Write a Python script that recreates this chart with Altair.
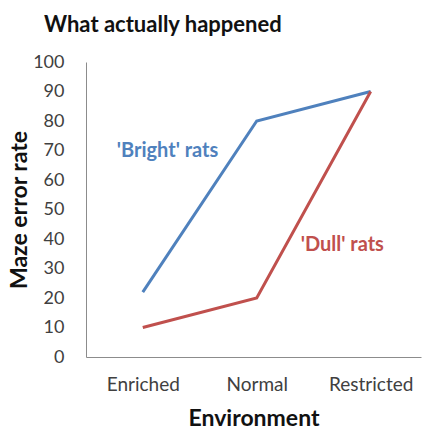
import altair as alt
import pandas as pd

environments = ["Enriched", "Normal", "Restricted"]
bright_rats = [22, 80, 90]
dull_rats = [10, 20, 90]
series_names = ["'Bright' rats", "'Dull' rats"]
series_colors = ["#4F81BD", "#C0504D"]
y_ticks = list(range(0, 101, 10))

rows = []
for env, b, d in zip(environments, bright_rats, dull_rats):
    rows.append({"Environment": env, "value": b, "series": series_names[0]})
    rows.append({"Environment": env, "value": d, "series": series_names[1]})
df = pd.DataFrame(rows)

label_df = pd.DataFrame([
    {"Environment": "Enriched", "value": 70, "series": series_names[0]},
    {"Environment": "Normal", "value": 38, "series": series_names[1]},
])

FONT = "Lato"

x_enc = alt.X("Environment:N", sort=environments,
              scale=alt.Scale(type="point", padding=0.47, align=0.53),
              axis=alt.Axis(title="Environment", labelAngle=0, ticks=False,
                            domain=True, domainColor="#8c8c8c", labelPadding=18,
                            labelFontSize=19, labelColor="#404040",
                            titleFontSize=23, titleFontWeight="bold",
                            titlePadding=13, labelFont=FONT, titleFont=FONT,
                            titleColor="#111111"))
y_enc = alt.Y("value:Q", scale=alt.Scale(domain=[0, 100], nice=False, zero=True),
              axis=alt.Axis(title="Maze error rate", values=y_ticks,
                            ticks=False,
                            domainColor="#8c8c8c", grid=False, labelPadding=22,
                            labelOverlap=False, labelBound=False,
                            labelFontSize=18, labelColor="#404040",
                            titleFontSize=23, titleFontWeight="bold",
                            titlePadding=1, labelFont=FONT, titleFont=FONT,
                            titleColor="#111111"))
color_enc = alt.Color("series:N", scale=alt.Scale(domain=series_names, range=series_colors),
                      legend=None)

lines = alt.Chart(df).mark_line(strokeWidth=3).encode(
    x=x_enc, y=y_enc, color=color_enc, detail="series:N")

bright_label = alt.Chart(label_df[label_df.series == series_names[0]]).mark_text(
    align="left", baseline="middle", dx=-26, fontSize=20, fontWeight="bold", font=FONT
).encode(x=x_enc, y=y_enc, text="series:N", color=color_enc)

dull_label = alt.Chart(label_df[label_df.series == series_names[1]]).mark_text(
    align="left", baseline="middle", dx=44, fontSize=20, fontWeight="bold", font=FONT
).encode(x=x_enc, y=y_enc, text="series:N", color=color_enc)

chart = alt.layer(lines, bright_label, dull_label).properties(
    width=335, height=295,
    autosize=alt.AutoSizeParams(type="none"),
    padding={"left": 86, "top": 62, "right": 1, "bottom": 72},
    title=alt.TitleParams("What actually happened", anchor="start", frame="group",
                          dx=-42, fontSize=22, fontWeight="bold", font=FONT,
                          color="#111111", offset=16),
).configure_view(stroke=None).configure_axis(domainWidth=1).configure_axisY(
    labelOverlap=False, labelSeparation=0)

chart.save("out.html", embed_options={"renderer": "svg", "actions": False})
